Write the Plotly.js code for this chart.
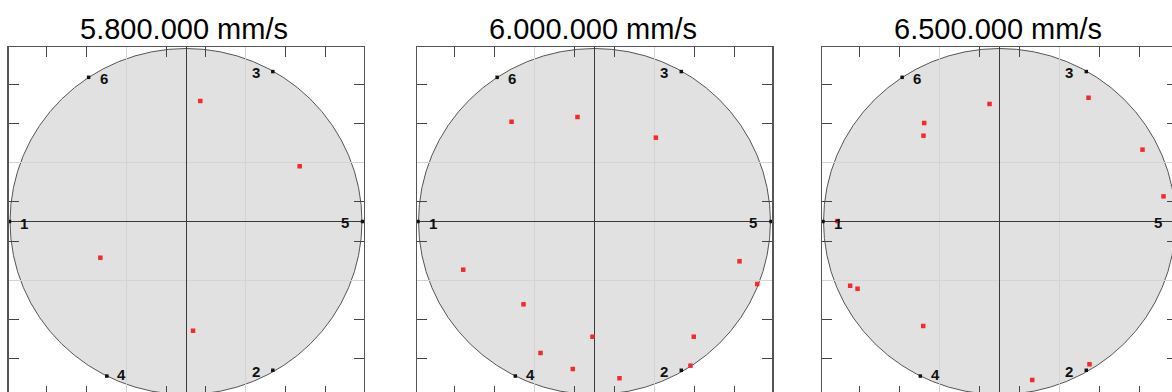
<!DOCTYPE html>
<html>
<head>
<meta charset="utf-8">
<script src="https://cdn.plot.ly/plotly-3.0.1.min.js"></script>
<style>
html,body{margin:0;padding:0;overflow:hidden;background:#ffffff;}
#chart{width:1180px;height:400px;}
</style>
</head>
<body>
<div id="chart"></div>
<script>
// ---- data ----
const panelTitles = ['5.800.000 mm/s', '6.000.000 mm/s', '6.500.000 mm/s'];

// measurement sites on the wafer edge (mm)
const siteLabels = ['1', '2', '3', '4', '5', '6'];
const siteX = [-150.5, 74, 74, -67.5, 150.5, -83];
const siteY = [0, -129, 130, -134, 0, 125];

// red defect points (mm)
const p1X = [12.2, 96.9, -73.0, 6.0];
const p1Y = [104.5, 47.9, -31.4, -94.7];

const p2X = [-70.7, -14.5, 52.3, -111.9, -60.5, -1.7, -46.0, -18.5, 21.3, 84.6, 81.8, 123.6, 138.7];
const p2Y = [86.5, 90.6, 72.7, -41.8, -71.8, -99.9, -114.0, -127.9, -135.9, -99.9, -125.0, -34.5, -54.2];

const p3X = [-8.5, -64.2, -64.8, 75.9, 121.9, 139.8, -138.1, -127.3, -121.0, -65.0, 27.9, 76.7];
const p3Y = [101.9, 85.4, 74.4, 107.3, 62.3, 21.8, 0.4, -55.7, -58.3, -90.6, -137.4, -123.8];

const waferRadius = 150;
const axisHalf = 151.3;
const tickPositions = [-119, -85, -17, 17, 85, 119];
const gridPositions = [-51, 51];

// ---- build ----
const W = 1180, H = 400;
const FONT = 'Liberation Sans, Arial, Helvetica, sans-serif';
const panelLeftPx = [8.5, 417, 822];
const panelWidthPx = 355;
const topPx = 47, plotHPx = 349;

const pts = [[p1X, p1Y], [p2X, p2Y], [p3X, p3Y]];
const labelShift = {
  '1': [15, -2], '2': [-17, -1.5], '3': [-17, -1],
  '4': [15, 2], '5': [-18, -0.5], '6': [15, -1]
};

const traces = [];
const shapes = [];
const annotations = [];
const layout = {
  width: W, height: H, autosize: false,
  margin: {l: 0, r: 0, t: 0, b: 0, pad: 0},
  paper_bgcolor: '#ffffff', plot_bgcolor: '#ffffff',
  showlegend: false,
  font: {family: FONT, color: '#000'},
  shapes: shapes, annotations: annotations
};

for (let i = 0; i < 3; i++) {
  const sfx = i === 0 ? '' : String(i + 1);
  const xa = 'x' + sfx, ya = 'y' + sfx;
  const x0 = panelLeftPx[i] / W, x1 = (panelLeftPx[i] + panelWidthPx) / W;
  const y1 = (H - topPx) / H, y0 = (H - topPx - plotHPx) / H;
  const axBase = {
    range: [-axisHalf, axisHalf],
    showticklabels: false,
    tickmode: 'array', tickvals: tickPositions,
    ticks: 'inside', ticklen: 10, tickwidth: 1, tickcolor: '#444',
    showgrid: false,
    minor: {tickmode: 'array', tickvals: gridPositions, showgrid: true,
            gridcolor: '#d4d4d4', gridwidth: 1, ticks: ''},
    zeroline: true, zerolinecolor: '#3a3a3a', zerolinewidth: 1,
    showline: true, linecolor: '#555', linewidth: 1.5, mirror: 'ticks',
    fixedrange: true
  };
  layout['xaxis' + sfx] = Object.assign({}, axBase, {domain: [x0, x1], anchor: ya});
  layout['yaxis' + sfx] = Object.assign({}, axBase, {domain: [y0, y1], anchor: xa});

  shapes.push({
    type: 'circle', xref: xa, yref: ya, layer: 'below',
    x0: -waferRadius, x1: waferRadius, y0: -waferRadius, y1: waferRadius,
    fillcolor: '#e1e1e1', line: {color: '#555', width: 1}
  });

  traces.push({
    type: 'scatter', mode: 'markers', xaxis: xa, yaxis: ya,
    x: siteX, y: siteY, hoverinfo: 'skip',
    marker: {symbol: 'square', size: 3.5, color: '#111', line: {width: 0}},
    cliponaxis: false
  });
  traces.push({
    type: 'scatter', mode: 'markers', xaxis: xa, yaxis: ya,
    x: pts[i][0], y: pts[i][1], hoverinfo: 'skip',
    marker: {symbol: 'square', size: 4.5, color: '#f42a2a', line: {width: 0}},
    cliponaxis: false
  });

  for (let k = 0; k < siteLabels.length; k++) {
    const sh = labelShift[siteLabels[k]];
    annotations.push({
      xref: xa, yref: ya, x: siteX[k], y: siteY[k],
      text: '<b>' + siteLabels[k] + '</b>', showarrow: false,
      xanchor: 'center', yanchor: 'middle', xshift: sh[0], yshift: sh[1],
      font: {family: FONT, size: 15, color: '#111'}
    });
  }

  annotations.push({
    xref: 'paper', yref: 'paper',
    x: (panelLeftPx[i] + panelWidthPx / 2 - 2) / W, y: (H - 29) / H,
    xanchor: 'center', yanchor: 'middle', showarrow: false,
    text: panelTitles[i],
    font: {family: FONT, size: 29, color: '#000'}
  });
}

Plotly.newPlot('chart', traces, layout, {staticPlot: true, displayModeBar: false});
</script>
</body>
</html>
